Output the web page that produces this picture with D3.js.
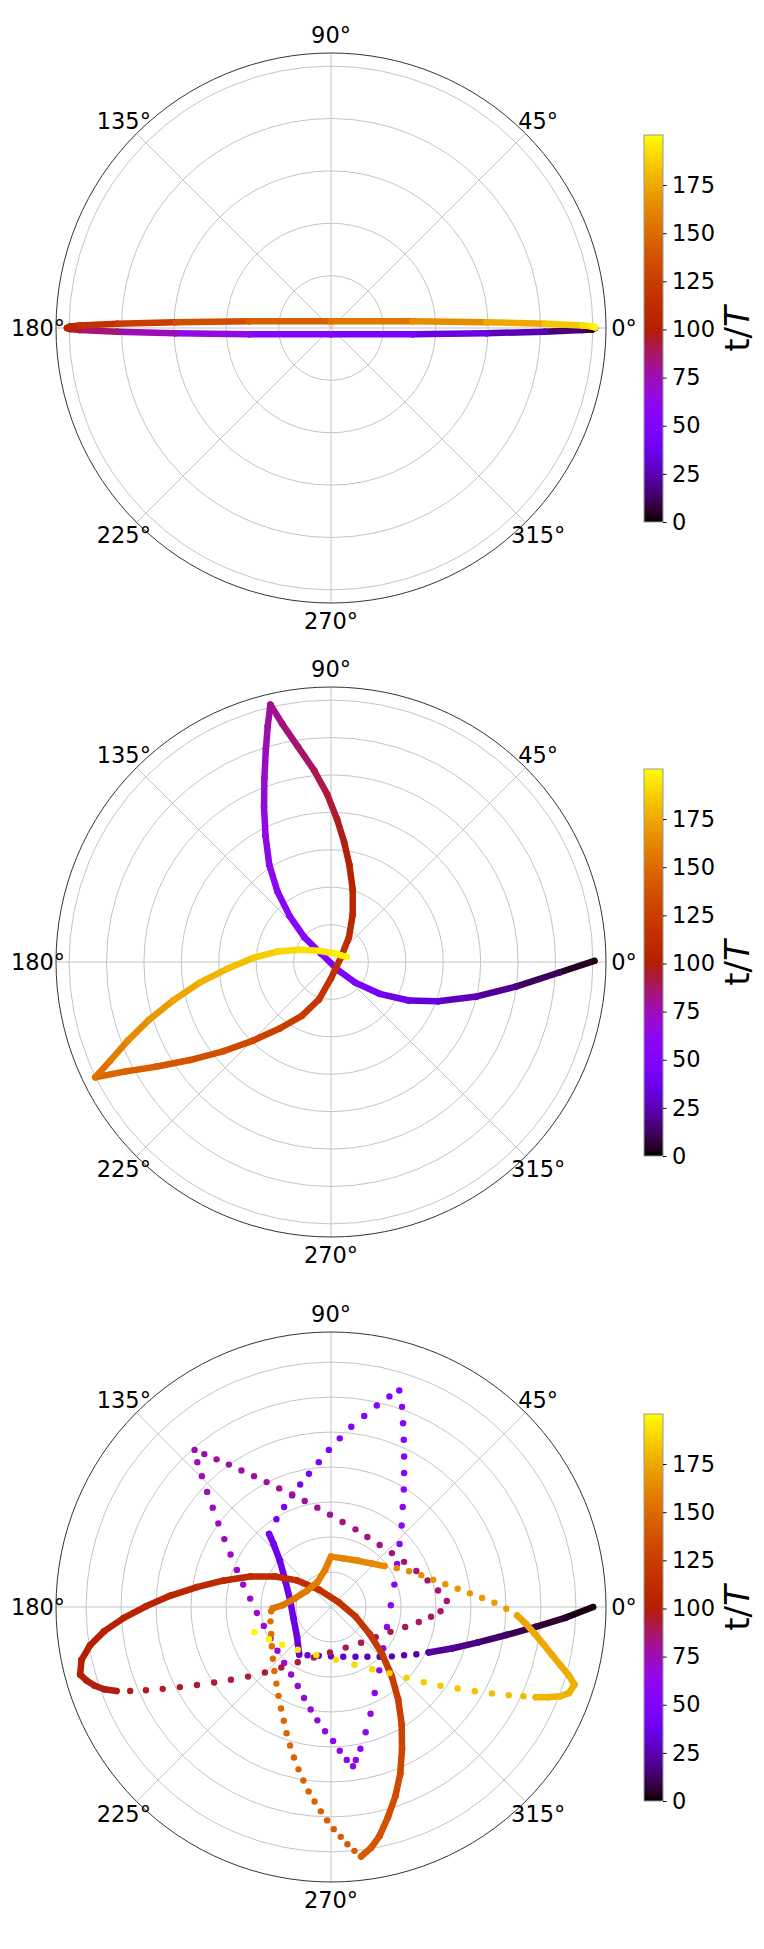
<!DOCTYPE html>
<html>
<head>
<meta charset="utf-8">
<script src="https://cdn.jsdelivr.net/npm/d3@7"></script>
<style>
body { margin: 0; background: #fff; }
svg { display: block; font-family: "DejaVu Sans", sans-serif; }
</style>
</head>
<body>
<div id="chart"></div>
<script>
// shared axis settings
const angleTicks = [0, 45, 90, 135, 180, 225, 270, 315];
const cbTicks = [0, 25, 50, 75, 100, 125, 150, 175];
const tRange = [0, 201];

// panel 1 : flat ellipse (components in grid-ring units)
const t1  = [0, 5, 10, 20, 30, 40, 50, 60, 70, 80, 90, 95, 100, 105, 110, 120, 130, 140, 150, 160, 170, 180, 190, 195, 199];
const ex1 = [5.04, 4.98, 4.80, 4.08, 2.97, 1.56, 0.00, -1.56, -2.97, -4.08, -4.80, -4.98, -5.04, -4.98, -4.80, -4.08, -2.97, -1.56, 0.00, 1.56, 2.97, 4.08, 4.80, 4.98, 5.04];
const ey1 = [0.00, -0.03, -0.04, -0.07, -0.10, -0.12, -0.12, -0.12, -0.10, -0.07, -0.04, -0.02, 0.00, 0.03, 0.05, 0.08, 0.11, 0.13, 0.13, 0.13, 0.11, 0.08, 0.05, 0.03, 0.01];
const rTicks1 = [1, 2, 3, 4, 5];
const rMax1 = 5.25;
const runs1 = [[0, 199]];

// panel 2 : three-lobed path
const t2  = [0, 8, 16, 24, 30, 35, 40, 44, 47, 50, 53, 56, 59, 62, 65, 68, 71, 74, 77, 80,
             83, 86, 89, 92, 95, 98, 101, 104, 107, 110, 113, 116, 119, 122, 126, 130, 134, 138, 142, 146, 150,
             156, 162, 167, 172, 177, 181, 185, 188, 191, 194, 196, 199];
const ex2 = [7.04, 6.10, 4.94, 3.90, 2.86, 2.08, 1.30, 0.65, 0.19, -0.26, -0.71, -1.10, -1.43, -1.65, -1.75, -1.79, -1.78, -1.74, -1.69, -1.62,
             -1.30, -0.88, -0.45, -0.10, 0.16, 0.35, 0.49, 0.58, 0.58, 0.48, 0.26, 0.00, -0.32, -0.78, -1.36, -2.08, -2.86, -3.77, -4.68, -5.52, -6.30,
             -5.91, -5.43, -4.87, -4.22, -3.51, -2.79, -2.08, -1.43, -0.84, -0.32, 0.13, 0.42];
const ey2 = [0.03, -0.28, -0.66, -0.92, -1.05, -1.03, -0.85, -0.55, -0.22, 0.22, 0.66, 1.22, 1.88, 2.60, 3.37, 4.15, 4.92, 5.70, 6.31, 6.88,
             6.36, 5.75, 5.12, 4.48, 3.82, 3.21, 2.60, 1.94, 1.27, 0.66, 0.11, -0.44, -1.00, -1.44, -1.77, -2.10, -2.38, -2.62, -2.80, -2.93, -3.08,
             -2.65, -2.10, -1.55, -1.03, -0.55, -0.19, 0.11, 0.28, 0.33, 0.30, 0.22, 0.14];
const rTicks2 = [1, 2, 3, 4, 5, 6, 7];
const rMax2 = 7.35;
const runs2 = [[0, 199]];

// panel 3 : star-shaped path, sampled points (sparse where fast)
const t3 = [
  0, 4, 8, 12, 16, 19, 22,
  23, 24, 25, 26, 27, 28, 29, 30, 31, 32,
  33, 34, 35, 36, 37, 38, 39, 40,
  41, 42, 43, 44, 45, 46, 47, 48, 49, 50, 51, 52, 53,
  53.5, 54, 54.5, 55, 55.5, 56, 56.5, 57, 57.5, 58, 58.5, 59, 59.5, 60, 60.5, 61, 61.5, 62, 62.5, 63, 63.5,
  64, 64.5, 65, 65.5, 66, 66.5, 67, 67.5, 68, 68.5, 69, 69.5, 70, 70.5, 71, 71.5, 72, 72.5, 73, 73.5, 74, 74.5, 75, 75.5, 76,
  76.5, 77, 77.5, 78, 78.5, 79, 79.5, 80, 80.5, 81, 81.5, 82, 82.5, 83, 83.5, 84, 84.5, 85, 85.5, 86, 86.5,
  87, 87.5, 88, 88.5, 89, 89.5, 90, 90.5, 91, 91.5, 92, 92.5, 93, 93.5, 94, 94.5, 95, 95.5, 96, 96.5, 97,
  97.5, 98, 98.5, 99, 99.5,
  100, 101, 102, 103.5, 105, 106.5, 108, 109.5, 111, 112.5, 114, 115.5, 117, 118.5, 120, 122, 124, 126, 128, 130, 132, 134, 136, 138, 140, 142,
  142.5, 143, 143.5, 144, 144.5, 145, 145.5, 146, 146.5, 147, 147.5, 148, 148.5, 149, 149.5, 150, 150.5, 151, 151.5, 152, 152.5, 153, 153.5,
  154, 155, 156, 157, 158, 159, 160, 161, 162, 163, 164,
  164.75, 165.5, 166.25, 167, 167.75, 168.5, 169.25, 170, 170.75, 171.5, 172.25, 173, 173.75, 174.5, 175.25, 176, 176.75, 177.5,
  178, 178.5, 179, 179.5,
  180.5, 181.5, 182.5, 183.5, 184.5, 185.5, 186.5, 187.5, 188.5, 189.5, 190.5, 192, 193.5, 195, 196.5, 198, 199.5
];
const ex3 = [
  7.49, 6.69, 5.85, 5.01, 4.18, 3.48, 2.79,
  2.44, 2.09, 1.74, 1.39, 1.04, 0.70, 0.35, 0.00, -0.35, -0.67,
  -0.91, -0.97, -1.07, -1.17, -1.30, -1.46, -1.64, -1.77,
  -1.56, -1.34, -1.11, -0.88, -0.63, -0.35, -0.06, 0.25, 0.58, 0.95, 1.31, 1.67, 1.95,
  2.03, 2.06, 2.08, 2.09, 2.09, 2.08, 2.05, 2.02, 1.96, 1.89, 1.81, 1.71, 1.60, 1.49, 1.38, 1.25, 1.13, 0.99, 0.84, 0.71, 0.63,
  0.45, 0.25, 0.06, -0.17, -0.39, -0.58, -0.77, -0.95, -1.14, -1.34, -1.53, -1.73, -1.92, -2.12, -2.31, -2.51, -2.69, -2.87, -3.05, -3.22, -3.38, -3.54, -3.69, -3.82, -3.90,
  -3.62, -3.27, -2.92, -2.56, -2.20, -1.84, -1.48, -1.11, -0.75, -0.39, -0.03, 0.33, 0.70, 1.04, 1.39, 1.74, 2.09, 2.44, 2.76, 3.06, 3.31,
  3.13, 2.86, 2.51, 2.12, 1.70, 1.28, 0.86, 0.42, -0.03, -0.49, -0.95, -1.42, -1.89, -2.37, -2.86, -3.34, -3.83, -4.32, -4.81, -5.29, -5.74,
  -6.13, -6.48, -6.75, -6.99, -7.17,
  -7.13, -6.89, -6.48, -5.92, -5.29, -4.60, -3.83, -3.06, -2.30, -1.60, -0.97, -0.35, 0.21, 0.70, 1.11, 1.46, 1.74, 1.92, 2.02, 2.03, 1.98, 1.84, 1.63, 1.39, 1.14, 0.86,
  0.67, 0.47, 0.28, 0.08, -0.11, -0.29, -0.47, -0.64, -0.79, -0.93, -1.06, -1.17, -1.27, -1.35, -1.43, -1.50, -1.56, -1.62, -1.66, -1.69, -1.71, -1.73, -1.71,
  -1.67, -1.39, -1.04, -0.70, -0.39, -0.17, 0.00, 0.35, 0.77, 1.18, 1.53,
  1.88, 2.23, 2.58, 2.92, 3.27, 3.62, 3.97, 4.32, 4.67, 5.01, 5.32, 5.57, 5.82, 6.07, 6.32, 6.57, 6.80, 6.96,
  6.80, 6.55, 6.20, 5.85,
  5.50, 5.08, 4.60, 4.11, 3.62, 3.13, 2.65, 2.16, 1.67, 1.18, 0.67, 0.14, -0.42, -0.95, -1.39, -1.77, -2.19
];
const ey3 = [
  0.00, -0.31, -0.57, -0.80, -1.02, -1.18, -1.30,
  -1.35, -1.38, -1.41, -1.42, -1.42, -1.42, -1.42, -1.41, -1.39, -1.38,
  -1.36, -0.86, -0.33, 0.20, 0.73, 1.32, 1.80, 2.09,
  2.51, 2.86, 3.19, 3.50, 3.81, 4.14, 4.49, 4.82, 5.15, 5.46, 5.76, 6.02, 6.19,
  5.72, 5.25, 4.78, 4.30, 3.83, 3.36, 2.86, 2.33, 1.80, 1.23, 0.64, 0.05, -0.57, -1.18, -1.81, -2.46, -3.05, -3.58, -4.05, -4.37, -4.55,
  -4.37, -4.11, -3.83, -3.55, -3.24, -2.93, -2.60, -2.26, -1.93, -1.60, -1.25, -0.90, -0.54, -0.17, 0.24, 0.64, 1.06, 1.50, 1.94, 2.39, 2.84, 3.29, 3.74, 4.14, 4.49,
  4.37, 4.22, 4.07, 3.90, 3.74, 3.57, 3.39, 3.22, 3.03, 2.84, 2.64, 2.43, 2.22, 2.00, 1.77, 1.54, 1.29, 1.03, 0.76, 0.47, 0.17,
  -0.12, -0.28, -0.43, -0.57, -0.71, -0.86, -1.02, -1.16, -1.30, -1.44, -1.58, -1.73, -1.87, -1.99, -2.08, -2.16, -2.23, -2.29, -2.34, -2.38, -2.40,
  -2.40, -2.35, -2.25, -2.10, -1.93,
  -1.51, -1.10, -0.69, -0.31, 0.02, 0.32, 0.57, 0.76, 0.87, 0.87, 0.76, 0.50, 0.14, -0.27, -0.78, -1.34, -1.99, -2.64, -3.35, -4.05, -4.76, -5.41, -6.00, -6.54, -6.89, -7.13,
  -6.97, -6.78, -6.57, -6.35, -6.10, -5.84, -5.56, -5.27, -4.96, -4.64, -4.30, -3.96, -3.61, -3.25, -2.90, -2.54, -2.19, -1.83, -1.48, -1.12, -0.77, -0.41, -0.12,
  -0.04, 0.05, 0.24, 0.46, 0.71, 1.06, 1.44, 1.39, 1.32, 1.24, 1.17,
  1.11, 1.02, 0.91, 0.78, 0.65, 0.52, 0.39, 0.26, 0.12, -0.05, -0.24, -0.48, -0.76, -1.06, -1.37, -1.68, -1.96, -2.22,
  -2.46, -2.55, -2.58, -2.58,
  -2.55, -2.52, -2.47, -2.41, -2.33, -2.25, -2.15, -2.02, -1.89, -1.78, -1.65, -1.51, -1.37, -1.22, -1.08, -0.92, -0.72
];
const rTicks3 = [1, 2, 3, 4, 5, 6, 7];
const rMax3 = 7.86;
// stretches where the samples overlap into a solid band
const runs3 = [[0, 22], [33, 40], [97.5, 142], [154, 164], [172.25, 179.5]];

const W = 764, H = 1949;
const cx = 331, R = 275;
const panels = [
  {cy: 328, t: t1, ex: ex1, ey: ey1, rTicks: rTicks1, rMax: rMax1, runs: runs1},
  {cy: 962, t: t2, ex: ex2, ey: ey2, rTicks: rTicks2, rMax: rMax2, runs: runs2},
  {cy: 1607, t: t3, ex: ex3, ey: ey3, rTicks: rTicks3, rMax: rMax3, runs: runs3}
];

// matplotlib "gnuplot" colormap
function gnuplot(x) {
  const r = Math.sqrt(x), g = x * x * x, b = Math.max(0, Math.sin(2 * Math.PI * x));
  return d3.rgb(255 * r, 255 * g, 255 * b).formatHex();
}
const color = d3.scaleSequential(gnuplot).domain(tRange);

const svg = d3.select("#chart").append("svg")
  .attr("width", W)
  .attr("height", H);

const grad = svg.append("defs").append("linearGradient")
  .attr("id", "cbgrad")
  .attr("x1", 0).attr("y1", 1).attr("x2", 0).attr("y2", 0);
grad.selectAll("stop")
  .data(d3.range(0, 1.0001, 0.02))
  .join("stop")
  .attr("offset", d => d)
  .attr("stop-color", d => color(tRange[0] + d * (tRange[1] - tRange[0])));

panels.forEach(p => {
  const g = svg.append("g").attr("transform", "translate(" + cx + "," + p.cy + ")");
  const r = d3.scaleLinear().domain([0, p.rMax]).range([0, R]);
  const rad = d => d * Math.PI / 180;

  // grid
  g.selectAll(".ring").data(p.rTicks).join("circle")
    .attr("class", "ring")
    .attr("r", d => r(d))
    .attr("fill", "none")
    .attr("stroke", "#c4c4c4")
    .attr("stroke-width", 1);
  g.selectAll(".spoke").data(angleTicks).join("line")
    .attr("class", "spoke")
    .attr("x1", 0).attr("y1", 0)
    .attr("x2", d => d3.pointRadial(Math.PI / 2 - rad(d), R)[0])
    .attr("y2", d => d3.pointRadial(Math.PI / 2 - rad(d), R)[1])
    .attr("stroke", "#c4c4c4")
    .attr("stroke-width", 1);
  g.append("circle")
    .attr("r", R)
    .attr("fill", "none")
    .attr("stroke", "#333")
    .attr("stroke-width", 1);

  // angle labels
  g.selectAll(".alab").data(angleTicks).join("text")
    .attr("class", "alab")
    .attr("x", d => d3.pointRadial(Math.PI / 2 - rad(d), 293)[0])
    .attr("y", d => d3.pointRadial(Math.PI / 2 - rad(d), 293)[1])
    .attr("dy", "0.36em")
    .attr("text-anchor", "middle")
    .attr("font-size", 22.5)
    .attr("fill", "#000")
    .text(d => d + "°");

  // data: cartesian components -> polar position
  const pts = p.t.map((t, i) => {
    const th = Math.atan2(p.ey[i], p.ex[i]);
    const rr = Math.hypot(p.ex[i], p.ey[i]);
    const xy = d3.pointRadial(Math.PI / 2 - th, r(rr));
    return {t: t, x: xy[0], y: xy[1]};
  });
  const runOf = t => p.runs.findIndex(d => t >= d[0] && t <= d[1]);
  const marks = g.append("g");
  pts.forEach((d, i) => {
    if (i > 0) {
      const a = pts[i - 1];
      const ra = runOf(a.t);
      if (ra >= 0 && ra === runOf(d.t)) {
        marks.append("line")
          .attr("x1", a.x).attr("y1", a.y)
          .attr("x2", d.x).attr("y2", d.y)
          .attr("stroke", color((a.t + d.t) / 2))
          .attr("stroke-width", 6.5)
          .attr("stroke-linecap", "round");
      }
    }
    marks.append("circle")
      .attr("cx", d.x).attr("cy", d.y)
      .attr("r", 3.2)
      .attr("fill", color(d.t));
  });

  // colorbar
  const cbTop = p.cy - 193, cbBot = p.cy + 194;
  const cbX = 644, cbW = 19;
  const cb = d3.scaleLinear().domain(tRange).range([cbBot, cbTop]);
  svg.append("rect")
    .attr("x", cbX).attr("y", cbTop)
    .attr("width", cbW).attr("height", cbBot - cbTop)
    .attr("fill", "url(#cbgrad)")
    .attr("stroke", "#999")
    .attr("stroke-width", 1);
  const ax = svg.append("g")
    .attr("transform", "translate(" + (cbX + cbW) + ",0)")
    .call(d3.axisRight(cb).tickValues(cbTicks).tickSize(3.5).tickPadding(5.5));
  ax.select(".domain").remove();
  ax.selectAll("line").attr("stroke", "#000");
  ax.selectAll("text")
    .attr("font-size", 22.5)
    .attr("font-family", "DejaVu Sans, sans-serif")
    .attr("fill", "#000");
  const lab = svg.append("text")
    .attr("transform", "translate(737," + (p.cy + 1) + ") rotate(-90)")
    .attr("text-anchor", "middle")
    .attr("dy", "0.36em")
    .attr("font-size", 34)
    .attr("fill", "#000");
  lab.append("tspan").text("t/");
  lab.append("tspan").attr("font-style", "italic").text("T");
});
</script>
</body>
</html>
